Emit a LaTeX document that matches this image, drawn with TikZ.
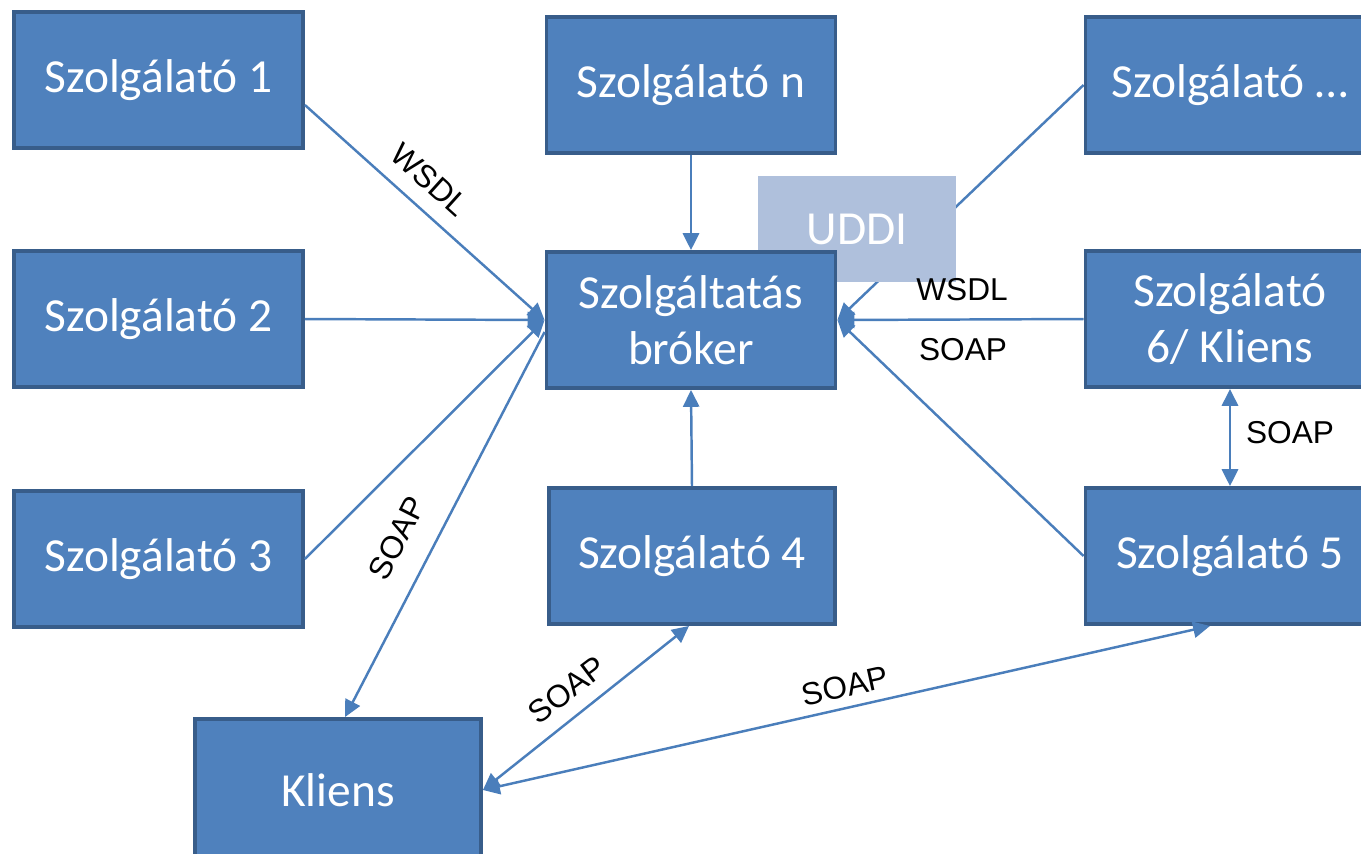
\documentclass[tikz,border=0pt]{standalone}
\usepackage{fontspec}
\setmainfont{Carlito}
\newfontfamily\lblfont{Liberation Sans}
\usetikzlibrary{arrows.meta, positioning}
\definecolor{boxfill}{HTML}{4F81BD}
\definecolor{boxborder}{HTML}{385D8A}
\definecolor{uddifill}{HTML}{AFC0DC}
\definecolor{linecol}{HTML}{4A7EBB}
\pgfdeclarelayer{bg}
\pgfdeclarelayer{mid}
\pgfsetlayers{bg,mid,main}
\tikzset{
  box/.style={draw=boxborder, fill=boxfill, line width=1.1pt, text=white,
    minimum width=2.89cm, minimum height=1.36cm, inner sep=0pt, align=center,
    font=\fontsize{13.5}{16}\selectfont},
  conn/.style={draw=linecol, line width=0.7pt, -{Triangle[length=4.8pt,width=4.6pt]}},
  biconn/.style={conn, {Triangle[length=4.8pt,width=4.6pt]}-{Triangle[length=4.8pt,width=4.6pt]}},
  lbl/.style={font=\lblfont\fontsize{9}{10}\selectfont, inner sep=0pt}
}

\begin{document}
\begin{tikzpicture}
\useasboundingbox (0,0) rectangle (13.61,-8.53);
\clip (0,0) rectangle (13.61,-8.53);
% szolgaltatok
\node[box] (s1) at (1.585,-0.80) {Szolgálató 1};
\node[box] (s2) at (1.585,-3.19) {Szolgálató 2};
\node[box] (s3) at (1.585,-5.59) {Szolgálató 3};
\node[box] (sn) at (6.91,-0.85) {Szolgálató n};
\node[box] (sd) at (12.30,-0.85) {Szolgálató \dots};
\node[box] (s6) at (12.30,-3.19) {Szolgálató\\6/ Kliens};
\node[box] (s5) at (12.30,-5.56) {Szolgálató 5};
\node[box, minimum width=2.86cm] (s4) at (6.92,-5.56) {Szolgálató 4};
\node[box, minimum width=2.86cm, minimum height=1.42cm] (kl) at (3.38,-7.90) {Kliens};
% broker, UDDI mogotte
\node[box] (b) at (6.91,-3.20) {Szolgáltatás\\bróker};
\begin{pgfonlayer}{mid}
\node[fill=uddifill, text=white, minimum width=1.98cm, minimum height=1.06cm,
  font=\fontsize{13.5}{16}\selectfont] (ud) at (8.57,-2.29) {UDDI};
\end{pgfonlayer}
\begin{pgfonlayer}{bg}
\draw[conn] (sd.west) -- (b.east);
\end{pgfonlayer}
% nyilak
\draw[conn] ([yshift=-0.25cm]s1.east) -- (b.west);
\draw[conn] (s2.east) -- (b.west);
\draw[conn] (s3.east) -- (b.west);
\draw[conn] ([yshift=-0.12cm]b.west) -- ([xshift=0.07cm]kl.north);
\draw[conn] (sn.south) -- (b.north);
\draw[conn] (s4.north) -- (b.south);
\draw[conn] (s6.west) -- (b.east);
\draw[conn] (s5.west) -- (b.east);
\draw[biconn] (s6.south) -- (s5.north);
\draw[biconn] (kl.east) -- ([xshift=-0.03cm]s4.south);
\draw[biconn] (kl.east) -- ([xshift=-0.2cm]s5.south);
% feliratok
\node[lbl, rotate=-42] (w1) at (4.30,-1.80) {WSDL};
\node[lbl, rotate=63] (p1) at (3.97,-5.38) {SOAP};
\node[lbl] (w2) at (9.62,-2.90) {WSDL};
\node[lbl] (p2) at (9.63,-3.50) {SOAP};
\node[lbl] (p3) at (12.90,-4.33) {SOAP};
\node[lbl, rotate=37] (p4) at (5.67,-6.90) {SOAP};
\node[lbl, rotate=12.5] (p5) at (8.45,-6.86) {SOAP};
\end{tikzpicture}
\end{document}
